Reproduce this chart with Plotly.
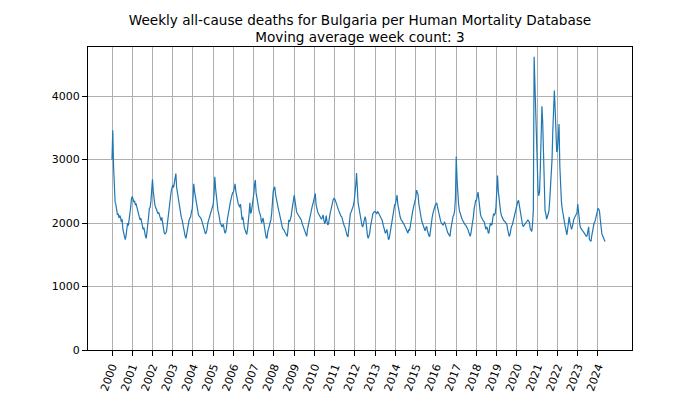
import plotly.graph_objects as go

# Weekly deaths (3-week moving average), sampled every two weeks, per year
d2000 = [3000, 3464, 2900, 2420, 2330, 2290, 2200, 2130, 2150, 2080, 2120, 2090, 2020, 2060, 1900, 1830, 1780, 1740, 1800, 1900, 2000, 1960, 2100, 2180, 2250, 2380]
d2001 = [2420, 2380, 2330, 2350, 2290, 2300, 2250, 2230, 2180, 2120, 2050, 2080, 2000, 1960, 1900, 1930, 1840, 1790, 1760, 1850, 1980, 2100, 2230, 2250, 2350, 2560]
d2002 = [2690, 2500, 2330, 2290, 2250, 2210, 2180, 2150, 2170, 2120, 2060, 2040, 2090, 1990, 1900, 1850, 1830, 1840, 1870, 1960, 2100, 2150, 2260, 2400, 2500, 2580]
d2003 = [2600, 2560, 2650, 2700, 2780, 2560, 2470, 2380, 2300, 2200, 2150, 2090, 2050, 1980, 1900, 1850, 1790, 1760, 1830, 1900, 2020, 2050, 2080, 2100, 2180, 2220]
d2004 = [2400, 2620, 2500, 2420, 2330, 2260, 2200, 2130, 2110, 2100, 2080, 2050, 2000, 1950, 1900, 1860, 1830, 1850, 1900, 2000, 2040, 2080, 2130, 2180, 2230, 2260]
d2005 = [2300, 2450, 2730, 2550, 2380, 2300, 2200, 2150, 2050, 2000, 1980, 1940, 1960, 1980, 1900, 1840, 1860, 1920, 2050, 2150, 2200, 2260, 2330, 2420, 2440, 2480]
d2006 = [2490, 2550, 2620, 2500, 2420, 2350, 2310, 2280, 2250, 2300, 2150, 2050, 2100, 1960, 1920, 1890, 1850, 1820, 1900, 2000, 2150, 2320, 2150, 2180, 2250, 2380]
d2007 = [2450, 2600, 2680, 2480, 2400, 2300, 2220, 2180, 2150, 2100, 2000, 2030, 2080, 2000, 1880, 1840, 1770, 1760, 1860, 1900, 1950, 2000, 2050, 2150, 2400, 2500]
d2008 = [2550, 2570, 2450, 2370, 2300, 2280, 2200, 2150, 2080, 2020, 1960, 1920, 1900, 1890, 1860, 1830, 1800, 1790, 1900, 2050, 2020, 2070, 2100, 2200, 2300, 2420]
d2009 = [2440, 2350, 2220, 2180, 2150, 2130, 2120, 2100, 2080, 2050, 2000, 1960, 1940, 1900, 1850, 1800, 1790, 1900, 1970, 2010, 2050, 2130, 2200, 2260, 2300, 2380]
d2010 = [2420, 2467, 2300, 2200, 2180, 2150, 2120, 2100, 2080, 2060, 2090, 2130, 2050, 1990, 2020, 2120, 2030, 1970, 1990, 2100, 2150, 2200, 2280, 2360, 2370, 2390]
d2011 = [2380, 2350, 2300, 2280, 2220, 2200, 2170, 2130, 2110, 2100, 2050, 1970, 1960, 1940, 1880, 1820, 1800, 1780, 1950, 2100, 2150, 2170, 2200, 2230, 2280, 2350]
d2012 = [2450, 2600, 2790, 2500, 2320, 2250, 2160, 2100, 2000, 1960, 1940, 2000, 2080, 2100, 2050, 1900, 1800, 1760, 1800, 1850, 1950, 2000, 2080, 2150, 2170, 2180]
d2013 = [2180, 2170, 2150, 2180, 2170, 2140, 2120, 2100, 2080, 2040, 1980, 1920, 1880, 1840, 1860, 1900, 1820, 1740, 1760, 1840, 1950, 2020, 2120, 2200, 2250, 2290]
d2014 = [2300, 2380, 2440, 2300, 2220, 2150, 2100, 2060, 2030, 2010, 2000, 1980, 1950, 1920, 1890, 1850, 1840, 1900, 1880, 1950, 2050, 2120, 2180, 2240, 2300, 2380]
d2015 = [2400, 2520, 2480, 2450, 2300, 2200, 2130, 2080, 2020, 1990, 1950, 1900, 1880, 1920, 1950, 1880, 1830, 1800, 1790, 1920, 2000, 2080, 2150, 2200, 2250, 2280]
d2016 = [2300, 2320, 2250, 2180, 2120, 2080, 2030, 2000, 1980, 1970, 1990, 2020, 1980, 1920, 1880, 1850, 1830, 1800, 1790, 1900, 1997, 2080, 2110, 2130, 2200, 2400]
d2017 = [3050, 2700, 2420, 2300, 2200, 2150, 2120, 2080, 2050, 2020, 2000, 1980, 1970, 1950, 1930, 1900, 1860, 1800, 1790, 1850, 1920, 2000, 2100, 2220, 2300, 2360]
d2018 = [2360, 2420, 2490, 2380, 2220, 2150, 2100, 2070, 2050, 2030, 2020, 1950, 1900, 1940, 1920, 1850, 1840, 1950, 2000, 1970, 1980, 2080, 2150, 2130, 2150, 2250]
d2019 = [2420, 2750, 2500, 2370, 2250, 2180, 2120, 2080, 2060, 2040, 2030, 2010, 2000, 1980, 1900, 1850, 1790, 1820, 1920, 1950, 1970, 2030, 2100, 2150, 2210, 2260]
d2020 = [2300, 2340, 2360, 2280, 2200, 2100, 2020, 1980, 1944, 1960, 1970, 1990, 2000, 2020, 2049, 2030, 2010, 1910, 1880, 1870, 1990, 2200, 4620, 4200, 3800, 3100]
d2021 = [2750, 2530, 2430, 2500, 2880, 3500, 3840, 3600, 3000, 2380, 2200, 2150, 2060, 2100, 2160, 2190, 2350, 2550, 2800, 3000, 3450, 3950, 4090, 3800, 3420, 3120]
d2022 = [3150, 3500, 3560, 2900, 2550, 2350, 2230, 2150, 2030, 1980, 1940, 1880, 1813, 1900, 2020, 2100, 2010, 1920, 1900, 1940, 2020, 2060, 2090, 2120, 2140, 2160]
d2023 = [2300, 2150, 2040, 1950, 1920, 1890, 1880, 1870, 1850, 1840, 1820, 1790, 1800, 1880, 1940, 1740, 1720, 1710, 1800, 1890, 1980, 2000, 2020, 2080, 2140, 2200]
d2024 = [2230, 2220, 2180, 2050, 1880, 1830, 1800, 1760, 1730, 1710]

years = list(range(2000, 2025))
year_series = [d2000, d2001, d2002, d2003, d2004, d2005, d2006, d2007, d2008, d2009,
               d2010, d2011, d2012, d2013, d2014, d2015, d2016, d2017, d2018, d2019,
               d2020, d2021, d2022, d2023, d2024]
tick_labels = [str(y) for y in years]
y_ticks = [0, 1000, 2000, 3000, 4000]

xs, ys = [], []
for yr, vals in zip(years, year_series):
    n = 26
    for k, v in enumerate(vals):
        xs.append(yr + k / n)
        ys.append(v)

fig = go.Figure()
fig.add_trace(go.Scatter(x=xs, y=ys, mode="lines",
                         line=dict(color="#1f77b4", width=1.2),
                         showlegend=False, hoverinfo="skip"))

# the page adds an 8px body margin, so the figure is offset by (8, 8)
font_family = "DejaVu Sans, sans-serif"
fig.update_layout(
    width=700, height=394,
    margin=dict(l=80, r=76, t=39, b=52, autoexpand=False),
    paper_bgcolor="white", plot_bgcolor="white",
    font=dict(family=font_family, color="black", size=11),
    title=dict(text="Weekly all-cause deaths for Bulgaria per Human Mortality Database<br>Moving average week count: 3",
               x=352 / 700, xanchor="center",
               yref="container", y=1 - 16.5 / 394, yanchor="middle",
               font=dict(size=13.6, family=font_family, color="black")),
)
fig.update_xaxes(range=[1998.815, 2025.68], tickmode="array", tickvals=years, ticktext=tick_labels,
                 tickangle=-70, showgrid=True, gridcolor="#b0b0b0", gridwidth=0.8,
                 showline=True, linecolor="black", linewidth=1, mirror=True, automargin=False,
                 ticks="outside", ticklen=5, tickcolor="black", zeroline=False)
fig.update_yaxes(range=[0, 4775], tickmode="array", tickvals=y_ticks, automargin=False,
                 showgrid=True, gridcolor="#b0b0b0", gridwidth=0.8,
                 showline=True, linecolor="black", linewidth=1, mirror=True,
                 ticks="outside", ticklen=5, tickcolor="black", zeroline=False)

fig.write_html("out.html")
